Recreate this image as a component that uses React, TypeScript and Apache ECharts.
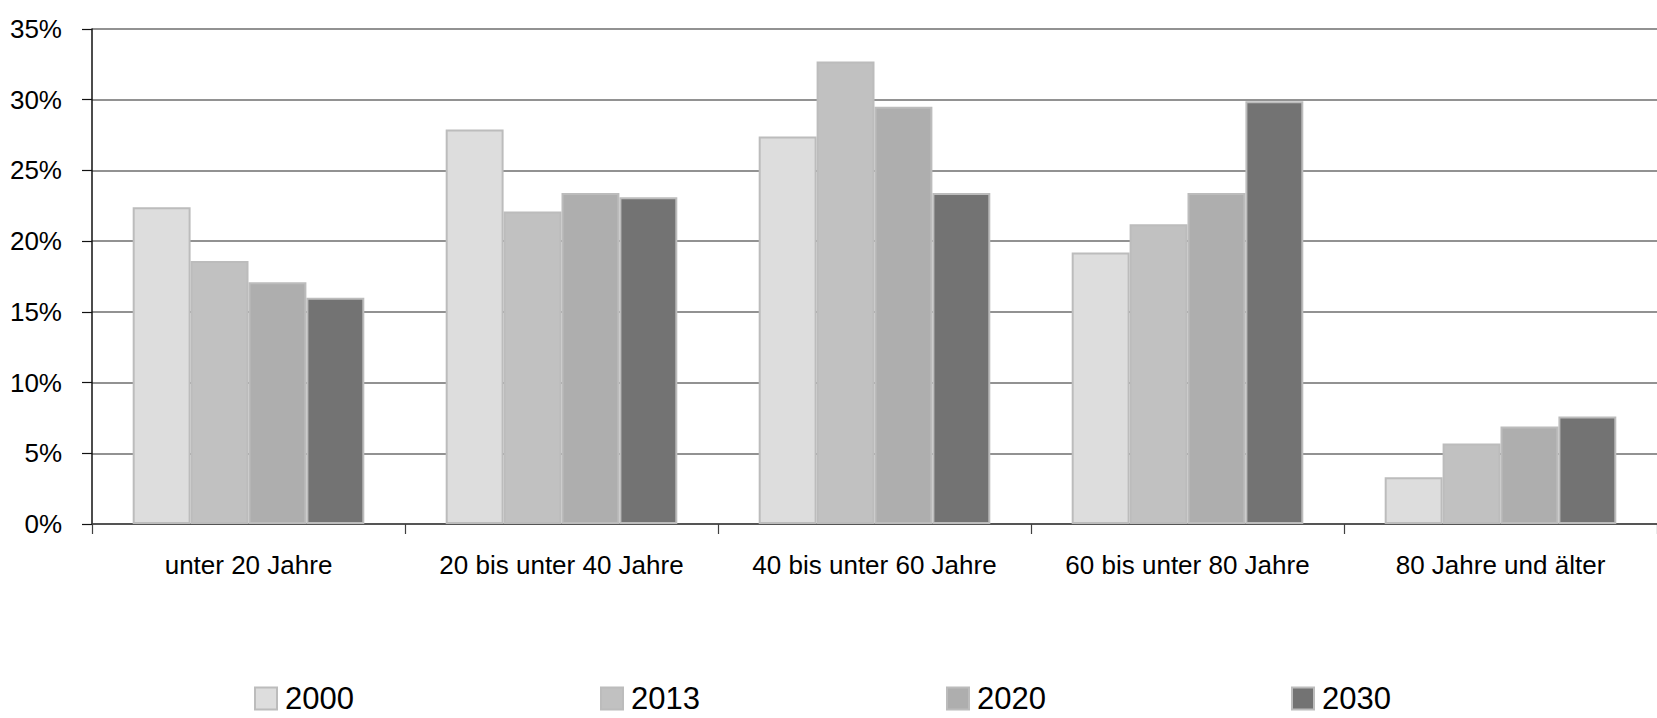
import React, { useEffect, useRef } from "react";
import * as echarts from "echarts";

const categories = [
  "unter 20 Jahre",
  "20 bis unter 40 Jahre",
  "40 bis unter 60 Jahre",
  "60 bis unter 80 Jahre",
  "80 Jahre und älter",
];
const seriesNames = ["2000", "2013", "2020", "2030"];
const values2000 = [22.4, 27.9, 27.4, 19.2, 3.3];
const values2013 = [18.6, 22.1, 32.7, 21.2, 5.7];
const values2020 = [17.1, 23.4, 29.5, 23.4, 6.9];
const values2030 = [16.0, 23.1, 23.4, 29.9, 7.6];
const yTicks = [0, 5, 10, 15, 20, 25, 30, 35];

const colors = ["#dddddd", "#c1c1c1", "#aeaeae", "#737373"];
const legendLefts = [254, 600, 946, 1291];
const font = "'Liberation Sans', Arial, Helvetica, sans-serif";

export default function App() {
  const ref = useRef<HTMLDivElement>(null);
  useEffect(() => {
    if (!ref.current) return;
    const chart = echarts.init(ref.current, undefined, { renderer: "svg" });
    const allValues = [values2000, values2013, values2020, values2030];
    chart.setOption({
      animation: false,
      backgroundColor: "#ffffff",
      grid: { left: 92, right: -7, top: 29, bottom: 194, containLabel: false },
      legend: seriesNames.map((n, i) => ({
        data: [{ name: n, icon: "rect" }],
        left: legendLefts[i],
        top: 683,
        padding: 0,
        itemWidth: 22,
        itemHeight: 22,
        selectedMode: false,
        textStyle: {
          fontFamily: font,
          fontSize: 31,
          color: "#000",
          lineHeight: 30,
          padding: [0, 0, 0, 3],
        },
      })),
      xAxis: {
        type: "category",
        data: categories,
        axisLine: { lineStyle: { color: "#404040", width: 1.5 } },
        axisTick: { show: true, length: 10, alignWithLabel: false, lineStyle: { color: "#404040", width: 1.2 } },
        axisLabel: { fontFamily: font, fontSize: 26, color: "#000", margin: 28, interval: 0 },
        splitLine: { show: false },
      },
      yAxis: {
        type: "value",
        min: yTicks[0],
        max: yTicks[yTicks.length - 1],
        interval: 5,
        axisLine: { show: true, lineStyle: { color: "#111", width: 1.5 } },
        axisTick: { show: true, length: 10, lineStyle: { color: "#111", width: 1.2 } },
        axisLabel: { fontFamily: font, fontSize: 26, color: "#000", margin: 30, formatter: "{value}%" },
        splitLine: { show: true, lineStyle: { color: "#6e6e6e", width: 1.5 } },
      },
      series: seriesNames.map((n, i) => ({
        name: n,
        type: "bar",
        data: allValues[i],
        barGap: "0%",
        barCategoryGap: "26%",
        itemStyle: { color: colors[i], borderColor: "#bcbcbc", borderWidth: 2 },
      })),
    });
    return () => chart.dispose();
  }, []);
  return (
    <div
      ref={ref}
      style={{ position: "fixed", left: 0, top: 0, width: 1657, height: 718, background: "#fff" }}
    />
  );
}
